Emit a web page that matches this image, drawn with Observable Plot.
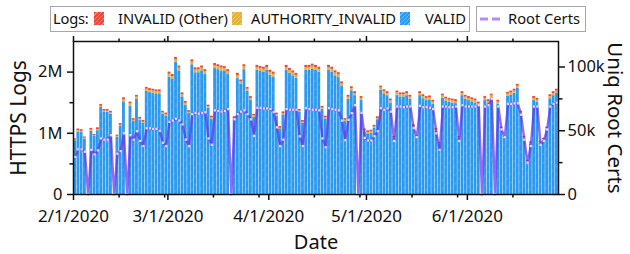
<!DOCTYPE html>
<html><head><meta charset="utf-8">
<script src="https://cdn.jsdelivr.net/npm/d3@7"></script>
<script src="https://cdn.jsdelivr.net/npm/@observablehq/plot@0.6"></script>
<style>
html,body{margin:0;padding:0;background:#fff;}
body{width:630px;height:254px;overflow:hidden;font-family:"Noto Sans",sans-serif;color:#111;}
#legend{position:relative;width:630px;height:34px;font-size:14.7px;}
.box{position:absolute;top:6px;height:26px;border:1px solid #a8a8a8;box-sizing:border-box;}
.it{position:absolute;top:9px;white-space:nowrap;line-height:18px;}
.sw{position:absolute;width:10px;height:13px;top:12px;}
#chart svg{display:block;}
</style></head><body>
<svg width="0" height="0" style="position:absolute">
<defs>
<pattern id="hb" patternUnits="userSpaceOnUse" width="6" height="6" patternTransform="rotate(40)">
<rect width="6" height="6" fill="#2c99ee"/><line x1="1" y1="0" x2="1" y2="3" stroke="#ffffff" stroke-opacity="0.2" stroke-width="0.8"/></pattern>
<pattern id="hy" patternUnits="userSpaceOnUse" width="6" height="6" patternTransform="rotate(40)">
<rect width="6" height="6" fill="#e2b13c"/><line x1="1" y1="0" x2="1" y2="3" stroke="#ffffff" stroke-opacity="0.2" stroke-width="0.8"/></pattern>
<pattern id="hr" patternUnits="userSpaceOnUse" width="6" height="6" patternTransform="rotate(40)">
<rect width="6" height="6" fill="#e8493b"/><line x1="1" y1="0" x2="1" y2="3" stroke="#ffffff" stroke-opacity="0.2" stroke-width="0.8"/></pattern>
</defs></svg>
<div id="legend">
  <div class="box" style="left:50px;width:420px"></div>
  <div class="box" style="left:476px;width:110px"></div>
  <span class="it" style="left:53px;letter-spacing:-0.2px">Logs:</span>
  <span class="sw" style="left:94px;background:repeating-linear-gradient(135deg,#e8493b 0 2px,#f1867b 2px 3px)"></span>
  <span class="it" style="left:118px">INVALID (Other)</span>
  <span class="sw" style="left:232px;background:repeating-linear-gradient(135deg,#e2b13c 0 2px,#ecc874 2px 3px)"></span>
  <span class="it" style="left:251px">AUTHORITY_INVALID</span>
  <span class="sw" style="left:400px;background:repeating-linear-gradient(135deg,#2c99ee 0 2px,#72bdf5 2px 3px)"></span>
  <span class="it" style="left:425px">VALID</span>
  <svg style="position:absolute;left:479px;top:16px" width="24" height="6"><line x1="1" y1="3" x2="23" y2="3" stroke="#b68bff" stroke-width="3" stroke-dasharray="8,4"/></svg>
  <span class="it" style="left:508px">Root Certs</span>
</div>
<div id="chart"></div>
<script>
// Daily HTTPS log counts (millions), 2020-02-01 .. 2020-06-28
const startDate = "2020-02-01";
const endDate = "2020-06-29";
const valid = [0.878,1.022,1.012,0.908,0,1.032,0.948,1.042,1.422,1.342,1.342,1.312,0,0.938,1.112,1.515,0,1.445,1.192,1.555,1.212,1.162,1.685,1.665,1.655,1.645,1.645,1.312,1.282,
1.92,1.88,2.16,2.02,1.595,1.455,1.322,2.12,1.99,1.99,2.02,1.96,1.412,1.232,2.06,2.04,2.02,2.01,1.96,0,1.222,1.9,1.805,2.04,1.685,1.535,1.262,2.03,2.01,2.0,
2.03,1.95,1.92,1.282,1.062,1.302,2.03,1.98,1.94,1.9,1.342,1.162,2.03,2.03,2.05,2.03,2.0,1.392,1.232,2.03,2.0,1.94,1.91,1.775,1.192,1.555,1.695,1.615,0,1.535,
1.022,0.992,1.002,1.082,1.222,1.705,1.645,1.615,1.495,0.918,1.625,1.595,1.595,1.615,1.555,1.092,0.928,1.615,1.565,1.535,1.545,1.475,1.032,0.818,1.575,1.525,1.505,1.495,1.485,0.918,
1.615,1.555,1.535,1.515,1.495,1.445,0,1.535,1.485,1.575,0,1.475,1.052,0.918,1.605,1.625,1.655,1.735,1.312,0.918,0.528,0.828,1.535,1.505,0.838,0.888,1.052,1.565,1.615,1.655];
const authorityInvalid = [.012,.02,.02,.012,0,.02,.012,.02,.02,.02,.02,.02,0,.012,.02,.035,0,.035,.02,.035,.02,.02,.035,.035,.035,.035,.035,.02,.02,
.045,.045,.045,.045,.035,.035,.02,.045,.045,.045,.045,.045,.02,.02,.045,.045,.045,.045,.045,0,.02,.045,.035,.045,.035,.035,.02,.045,.045,.045,
.045,.045,.045,.02,.02,.02,.045,.045,.045,.045,.02,.02,.045,.045,.045,.045,.045,.02,.02,.045,.045,.045,.045,.035,.02,.035,.035,.035,0,.035,
.02,.02,.02,.02,.02,.035,.035,.035,.035,.012,.035,.035,.035,.035,.035,.02,.012,.035,.035,.035,.035,.035,.02,.012,.035,.035,.035,.035,.035,.012,
.035,.035,.035,.035,.035,.035,0,.035,.035,.035,0,.035,.02,.012,.035,.035,.035,.035,.02,.012,.012,.012,.035,.035,.012,.012,.02,.035,.035,.035];
const invalidOther = [.02,.028,.028,.02,0,.028,.02,.028,.028,.028,.028,.028,0,.02,.028,.03,0,.03,.028,.03,.028,.028,.03,.03,.03,.03,.03,.028,.028,
.035,.035,.035,.035,.03,.03,.028,.035,.035,.035,.035,.035,.028,.028,.035,.035,.035,.035,.035,0,.028,.035,.03,.035,.03,.03,.028,.035,.035,.035,
.035,.035,.035,.028,.028,.028,.035,.035,.035,.035,.028,.028,.035,.035,.035,.035,.035,.028,.028,.035,.035,.035,.035,.03,.028,.03,.03,.03,0,.03,
.028,.028,.028,.028,.028,.03,.03,.03,.03,.02,.03,.03,.03,.03,.03,.028,.02,.03,.03,.03,.03,.03,.028,.02,.03,.03,.03,.03,.03,.02,
.03,.03,.03,.03,.03,.03,0,.03,.03,.03,0,.03,.028,.02,.03,.03,.03,.03,.028,.02,.02,.02,.03,.03,.02,.02,.028,.03,.03,.03];
// Unique root certs (thousands)
const rootCerts = [29.5,35.4,35.4,33.6,0,35,31.5,34.6,44,43,43,46.5,0,32,34,48,0,46.5,43,49.6,42,38,52,52,51.5,51.5,50,40.6,38,
57,58,59.4,58,55,43,38,63,64,63.5,64,64.5,44,39,66,65.5,65,65.5,67,0,59,63,65,66,63,59,46,68,68,67.5,
67.5,67,64.6,52.7,38,43,67,66.5,66.5,66.5,45.7,38,67.7,67,66.5,66.5,66,44,37,67.7,67,66.5,66,58,42.6,58.6,63.8,70,0,64,
44.4,42.4,42.4,45.7,49.6,67.7,66.5,67.5,65,42,69,69,68.5,69,69,52,45,69.5,68.5,68.5,68,67,48,35,69,69,68.5,68.5,69,42,
70,69,69,69,69,70,0,69,70,75,0,69,51,45,71,71,71.5,71.5,62.5,43,25,38,69,69,39,42,51,69,71,72];
const seriesNames = ["VALID", "AUTHORITY_INVALID", "INVALID (Other)"];
const majorTicks = ["2020-02-01","2020-03-01","2020-04-01","2020-05-01","2020-06-01"];
const minorTicks = ["2020-02-15","2020-02-29","2020-03-15","2020-03-29","2020-04-15","2020-04-29","2020-05-15","2020-05-29","2020-06-15"];
const leftTicks = [0, 1, 2];
const leftMinor = [0.5, 1.5];
const rightTicks = [0, 50, 100];
const rightMinor = [25, 75];
const leftMax = 2.5, rightMax = 120;

const start = d3.isoParse(startDate);
const dates = valid.map((_, i) => d3.utcDay.offset(start, i));
const rows = [];
[valid, authorityInvalid, invalidOther].forEach((arr, k) =>
  arr.forEach((v, i) => rows.push({date: dates[i], next: d3.utcDay.offset(dates[i], 1), series: seriesNames[k], value: v})));
const k2m = leftMax / rightMax;
const rc = rootCerts.map((v, i) => ({date: d3.utcHour.offset(dates[i], 12), y: v * k2m}));
const fmtDate = d3.utcFormat("%-m/%-d/%Y");
const blank = () => "";

const chart = Plot.plot({
  width: 630, height: 220,
  marginTop: 7, marginBottom: 60, marginLeft: 73, marginRight: 72,
  style: {fontFamily: "'Noto Sans', sans-serif", fontSize: "17px", color: "#111", background: "white", overflow: "visible"},
  x: {type: "utc", domain: [start, d3.isoParse(endDate)]},
  y: {domain: [0, leftMax]},
  color: {domain: seriesNames, range: ["url(#hb)", "url(#hy)", "url(#hr)"]},
  marks: [
    Plot.rectY(rows, {x1: "date", x2: "next", y: "value", fill: "series", insetLeft: 0.2, insetRight: 0.2}),
    Plot.line(rc, {x: "date", y: "y", stroke: "#6a30ea", strokeOpacity: 0.72, strokeWidth: 2.4}),
    Plot.dot(rc, {x: "date", y: "y", r: 1.3, symbol: "square", fill: "#e4d8ff"}),
    Plot.axisY({ticks: leftTicks, tickFormat: d => d === 0 ? "0" : d + "M", tickSize: 6, tickPadding: 5, strokeWidth: 1.5, fontSize: 16.5, label: null}),
    Plot.axisY({ticks: leftMinor, tickFormat: blank, tickSize: 3.5, strokeWidth: 1.5, label: null}),
    Plot.axisY({anchor: "right", ticks: rightTicks.map(v => v * k2m), tickFormat: v => { const k = Math.round(v / k2m); return k === 0 ? "0" : k + "k"; }, tickSize: 6, tickPadding: 3, strokeWidth: 1.5, fontSize: 16.5, label: null}),
    Plot.axisY({anchor: "right", ticks: rightMinor.map(v => v * k2m), tickFormat: blank, tickSize: 3.5, strokeWidth: 1.5, label: null}),
    Plot.axisX({ticks: majorTicks.map(d3.isoParse), tickFormat: fmtDate, tickSize: 6, tickPadding: 9, strokeWidth: 1.5, label: null}),
    Plot.axisX({ticks: minorTicks.map(d3.isoParse), tickFormat: blank, tickSize: 3.5, strokeWidth: 1.5, label: null}),
    Plot.axisX({anchor: "top", ticks: majorTicks.map(d3.isoParse), tickFormat: blank, tickSize: 6, strokeWidth: 1.5, label: null}),
    Plot.axisX({anchor: "top", ticks: minorTicks.map(d3.isoParse), tickFormat: blank, tickSize: 3.5, strokeWidth: 1.5, label: null}),
    Plot.frame({stroke: "#111", strokeWidth: 1.5}),
    Plot.text(["HTTPS Logs"], {frameAnchor: "left", dx: -54, rotate: -90, textAnchor: "middle", lineAnchor: "middle", fontSize: 21, fill: "#111"}),
    Plot.text(["Uniq Root Certs"], {frameAnchor: "right", dx: 56, rotate: 90, textAnchor: "middle", lineAnchor: "middle", fontSize: 20.5, fill: "#111"}),
    Plot.text(["Date"], {frameAnchor: "bottom", dy: 48, textAnchor: "middle", lineAnchor: "middle", fontSize: 20, fill: "#111"})
  ]
});
document.getElementById("chart").appendChild(chart);
</script>
</body></html>
